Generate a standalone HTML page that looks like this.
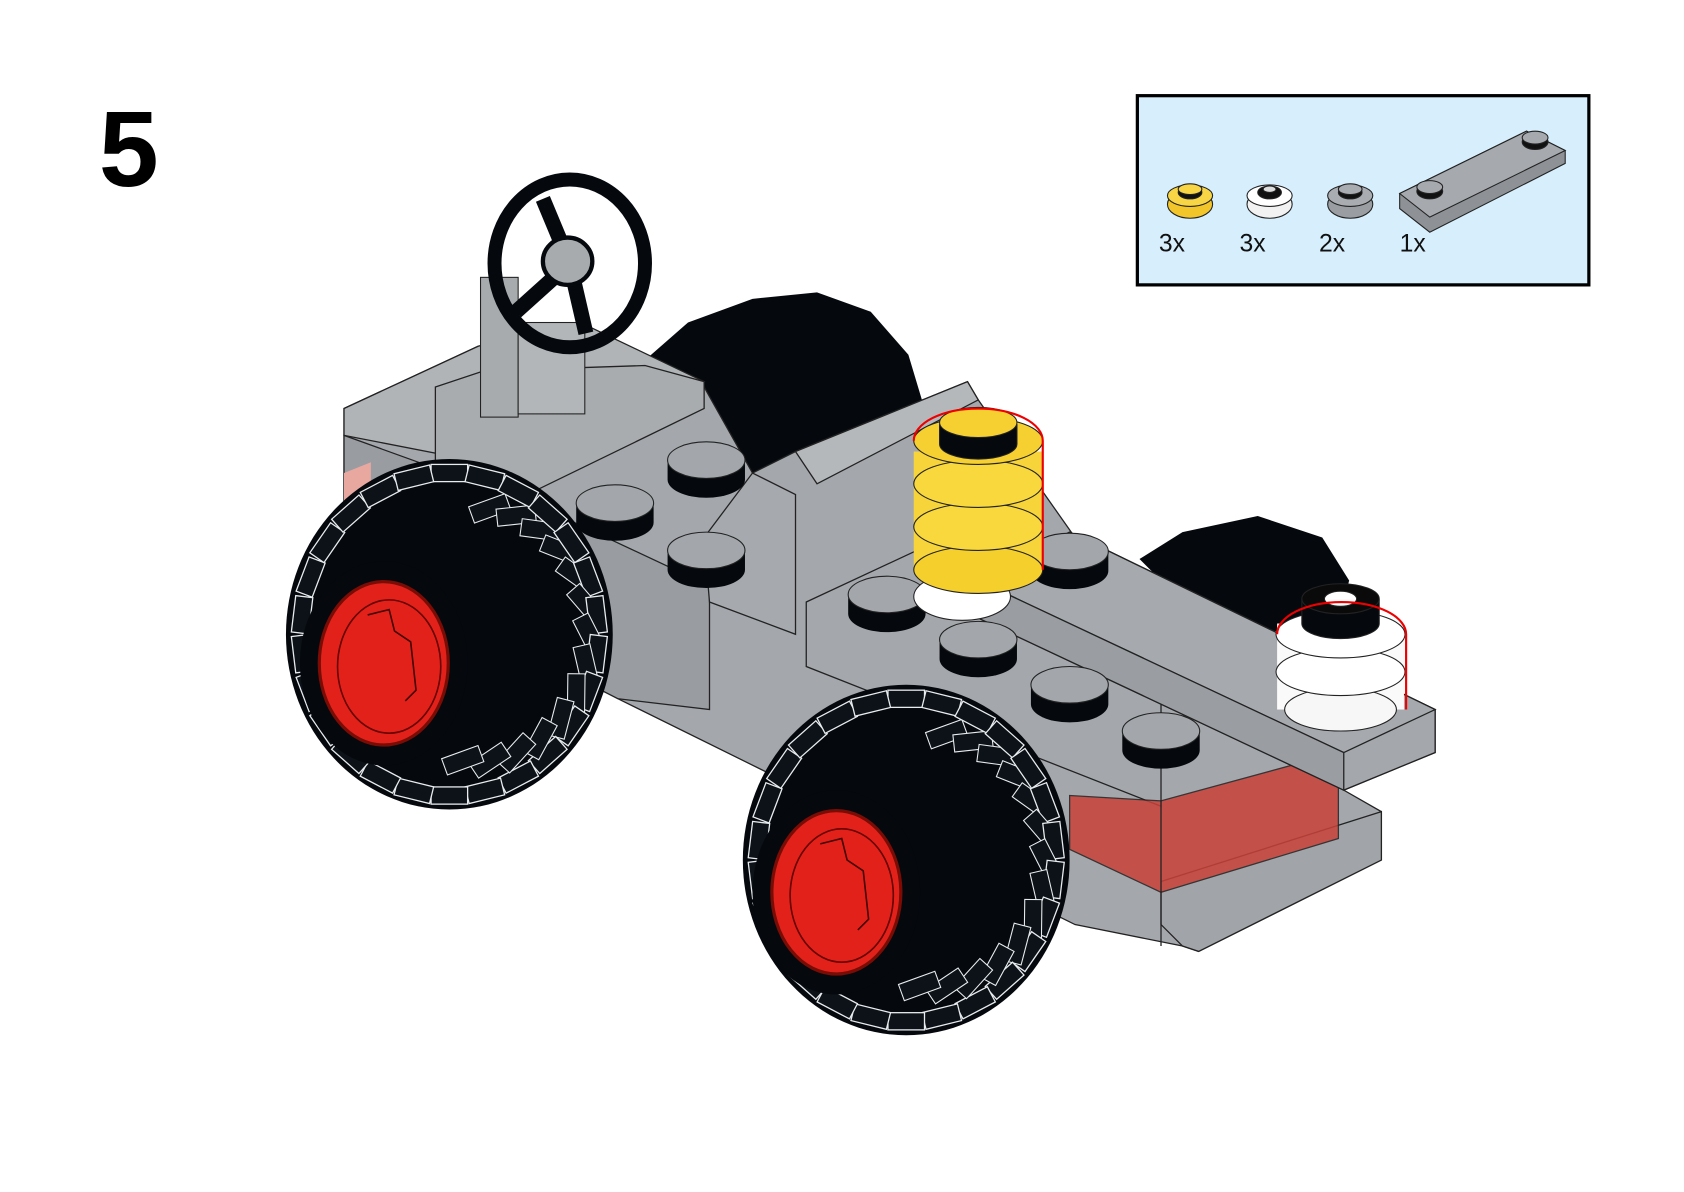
<!DOCTYPE html>
<html><head><meta charset="utf-8"><style>
html,body{margin:0;padding:0;background:#fff;}
svg{display:block;}
</style></head><body>
<svg id="s" width="1684" height="1192" viewBox="0 0 1566.5 1108.8" preserveAspectRatio="none" xmlns="http://www.w3.org/2000/svg">
<defs>
<g id="stud"><path d="M-36,0 v18 a36,17 0 0 0 72,0 v-18 z" fill="#05080c"/><ellipse cx="0" cy="0" rx="36" ry="17" fill="#a3a6aa" stroke="#222" stroke-width="1"/></g>
</defs>
<text x="92" y="173" font-family="Liberation Sans, sans-serif" font-weight="bold" font-size="100">5</text>
<rect x="1058" y="89" width="420" height="176" fill="#d7eefc" stroke="#000" stroke-width="3"/>
<g font-family="Liberation Sans, sans-serif" font-size="23" fill="#111">
<text x="1078" y="234">3x</text><text x="1153" y="234">3x</text><text x="1227" y="234">2x</text><text x="1302" y="234">1x</text></g>
<g stroke="#222" stroke-width="1">
<ellipse cx="1107" cy="190" rx="21" ry="13" fill="#f2c52a"/><ellipse cx="1107" cy="182" rx="21" ry="10" fill="#f7d545"/><ellipse cx="1107" cy="179" rx="11" ry="6" fill="#111"/><ellipse cx="1107" cy="176" rx="11" ry="5" fill="#f7d545"/>
<ellipse cx="1181" cy="190" rx="21" ry="13" fill="#f2f2f2"/><ellipse cx="1181" cy="182" rx="21" ry="10" fill="#fff"/><ellipse cx="1181" cy="179" rx="11" ry="6" fill="#111"/><ellipse cx="1181" cy="176" rx="6" ry="3" fill="#ddd"/>
<ellipse cx="1256" cy="190" rx="21" ry="13" fill="#9a9da1"/><ellipse cx="1256" cy="182" rx="21" ry="10" fill="#a9acb0"/><ellipse cx="1256" cy="179" rx="11" ry="6" fill="#111"/><ellipse cx="1256" cy="176" rx="11" ry="5" fill="#a9acb0"/>
<polygon points="1302,180 1420,122 1456,140 1456,152 1330,216 1302,194" fill="#8e9195"/>
<polygon points="1302,180 1420,122 1456,140 1330,202" fill="#a6a9ad"/>
<ellipse cx="1330" cy="178" rx="12" ry="7" fill="#111"/><ellipse cx="1330" cy="174" rx="12" ry="6" fill="#a6a9ad"/>
<ellipse cx="1428" cy="132" rx="12" ry="7" fill="#111"/><ellipse cx="1428" cy="128" rx="12" ry="6" fill="#a6a9ad"/>
</g>
<!-- back wheels -->
<g id="bw1"><path d="M600,335 L640,300 L700,278 L760,272 L810,290 L845,330 L860,380 L850,420 L700,440 L650,400 Z" fill="#05090e"/></g>
<g id="bw2"><path d="M1060,520 L1100,495 L1170,480 L1230,500 L1255,540 L1250,560 L1180,590 L1100,560 Z" fill="#05090e"/></g>
<g stroke="#222" stroke-width="1.2">
<polygon points="320,380 445,322 600,330 655,360 700,440 740,420 900,355 910,372 1000,500 1335,660 1335,700 1250,735 1285,755 1285,800 1115,885 1100,880 1000,860 575,650 320,520" fill="#a4a7ab"/>
<polygon points="320,380 445,322 540,300 655,355 500,440 320,405" fill="#b1b4b7"/>
<polygon points="405,360 450,345 600,340 655,355 655,380 470,470 405,440" fill="#a9acaf"/>
<polygon points="320,405 500,470 660,545 660,660 575,650 320,520" fill="#999ca0"/>
<polygon points="320,440 345,430 345,460 320,470" fill="#e8a8a0" stroke="none"/>
<polygon points="655,500 700,440 740,460 740,590 660,560" fill="#a6a9ad"/>
<polygon points="740,420 900,355 910,372 760,450" fill="#b5b8bb"/>
<polygon points="750,560 900,490 1000,520 1080,560 1080,750 750,620" fill="#a4a7ab"/>
<polygon points="1080,820 1285,755 1285,800 1115,885 1100,880 1080,860" fill="#a1a4a8"/>
<polygon points="995,740 1080,745 1245,700 1245,780 1080,830 995,790" fill="#c9433a" opacity="0.85"/>
<polygon points="1080,745 1080,880" fill="none"/>
<polygon points="910,540 995,495 1335,660 1335,700 1250,735 910,575" fill="#a4a7ab"/>
<polygon points="910,540 995,495 1335,660 1250,700" fill="#a6a9ad"/>
<polygon points="910,540 1250,700 1250,735 910,575" fill="#9a9da1"/>
</g>
<rect x="447" y="258" width="35" height="130" fill="#a8abae" stroke="#222"/>
<rect x="482" y="300" width="62" height="85" fill="#b3b6b9" stroke="#222"/>
<ellipse cx="530" cy="245" rx="70" ry="78" fill="none" stroke="#05090e" stroke-width="13"/>
<path d="M530,245 L480,290 M530,245 L545,310 M530,245 L505,185" stroke="#05090e" stroke-width="14"/>
<ellipse cx="528" cy="243" rx="23" ry="22" fill="#a8abae" stroke="#05090e" stroke-width="4"/>
<use href="#stud" x="657" y="428"/><use href="#stud" x="572" y="468"/><use href="#stud" x="657" y="512"/>
<use href="#stud" x="825" y="553"/><use href="#stud" x="910" y="595"/><use href="#stud" x="995" y="637"/><use href="#stud" x="1080" y="680"/>
<use href="#stud" x="995" y="513"/>
<g stroke="#222" stroke-width="1">
<ellipse cx="895" cy="555" rx="45" ry="22" fill="#fff"/>
<rect x="850" y="420" width="120" height="110" fill="#f6d43a" stroke="none"/>
<ellipse cx="910" cy="530" rx="60" ry="22" fill="#f5cf2c"/>
<ellipse cx="910" cy="490" rx="60" ry="22" fill="#f8d83d"/>
<ellipse cx="910" cy="450" rx="60" ry="22" fill="#f8d83d"/>
<ellipse cx="910" cy="410" rx="60" ry="22" fill="#f6d030"/>
<path d="M874,395 v18 a36,14 0 0 0 72,0 v-18 z" fill="#05080c"/>
<ellipse cx="910" cy="393" rx="36" ry="14" fill="#f6d030"/>
</g>
<path d="M850,410 a60,30 0 0 1 120,0 v120" fill="none" stroke="#e00" stroke-width="2"/>
<g stroke="#222" stroke-width="1">
<rect x="1188" y="580" width="118" height="80" fill="#fafafa" stroke="none"/>
<ellipse cx="1247" cy="660" rx="52" ry="20" fill="#f7f7f7"/>
<ellipse cx="1247" cy="625" rx="60" ry="22" fill="#fff"/>
<ellipse cx="1247" cy="590" rx="60" ry="22" fill="#fff"/>
<path d="M1211,558 v22 a36,14 0 0 0 72,0 v-22 z" fill="#05080c"/>
<ellipse cx="1247" cy="557" rx="36" ry="14" fill="#0a0a0a"/>
<ellipse cx="1247" cy="557" rx="15" ry="7" fill="#fff"/>
</g>
<path d="M1188,590 a60,30 0 0 1 120,0 v70" fill="none" stroke="#e00" stroke-width="2"/>
<g id="fw"></g>
</svg>
<script>
(function(){
var ns="http://www.w3.org/2000/svg",g=document.getElementById("fw");
function el(t,a){var e=document.createElementNS(ns,t);for(var k in a)e.setAttribute(k,a[k]);g.appendChild(e);return e;}
function wheel(cx,cy,hx,hy){
 el("ellipse",{cx:cx,cy:cy,rx:152,ry:163,fill:"#05090e"});
 // tread blocks
 for(var i=0;i<26;i++){
  var a=-Math.PI/2+i*2*Math.PI/26;
  var x=cx+Math.cos(a)*138, y=cy+Math.sin(a)*150;
  var w=34,h=16, ang=a*180/Math.PI+90;
  el("rect",{x:x-w/2,y:y-h/2,width:w,height:h,fill:"#0c1218",stroke:"#e8ecef","stroke-width":1.2,transform:"rotate("+ang+" "+x+" "+y+")"});
  var x2=cx+Math.cos(a+0.12)*105+25, y2=cy+Math.sin(a+0.12)*118;
  if(Math.cos(a)>-0.2){el("rect",{x:x2-18,y:y2-8,width:36,height:16,fill:"#0c1218",stroke:"#e8ecef","stroke-width":1,transform:"rotate("+(ang-20)+" "+x2+" "+y2+")"});}
 }
 el("ellipse",{cx:hx,cy:hy,rx:78,ry:95,fill:"#05090e"});
 el("ellipse",{cx:hx,cy:hy,rx:60,ry:76,fill:"#e2221a",stroke:"#7a0c06","stroke-width":3});
 el("ellipse",{cx:hx+5,cy:hy+3,rx:48,ry:62,fill:"none",stroke:"#600","stroke-width":1.5});
 el("path",{d:"M"+(hx-15)+","+(hy-45)+" l20,-5 l5,20 l15,10 l5,45 l-10,10",fill:"none",stroke:"#400","stroke-width":1.5});
}
wheel(418,590,357,617);
wheel(843,800,778,830);
})();
</script>
</body></html>
